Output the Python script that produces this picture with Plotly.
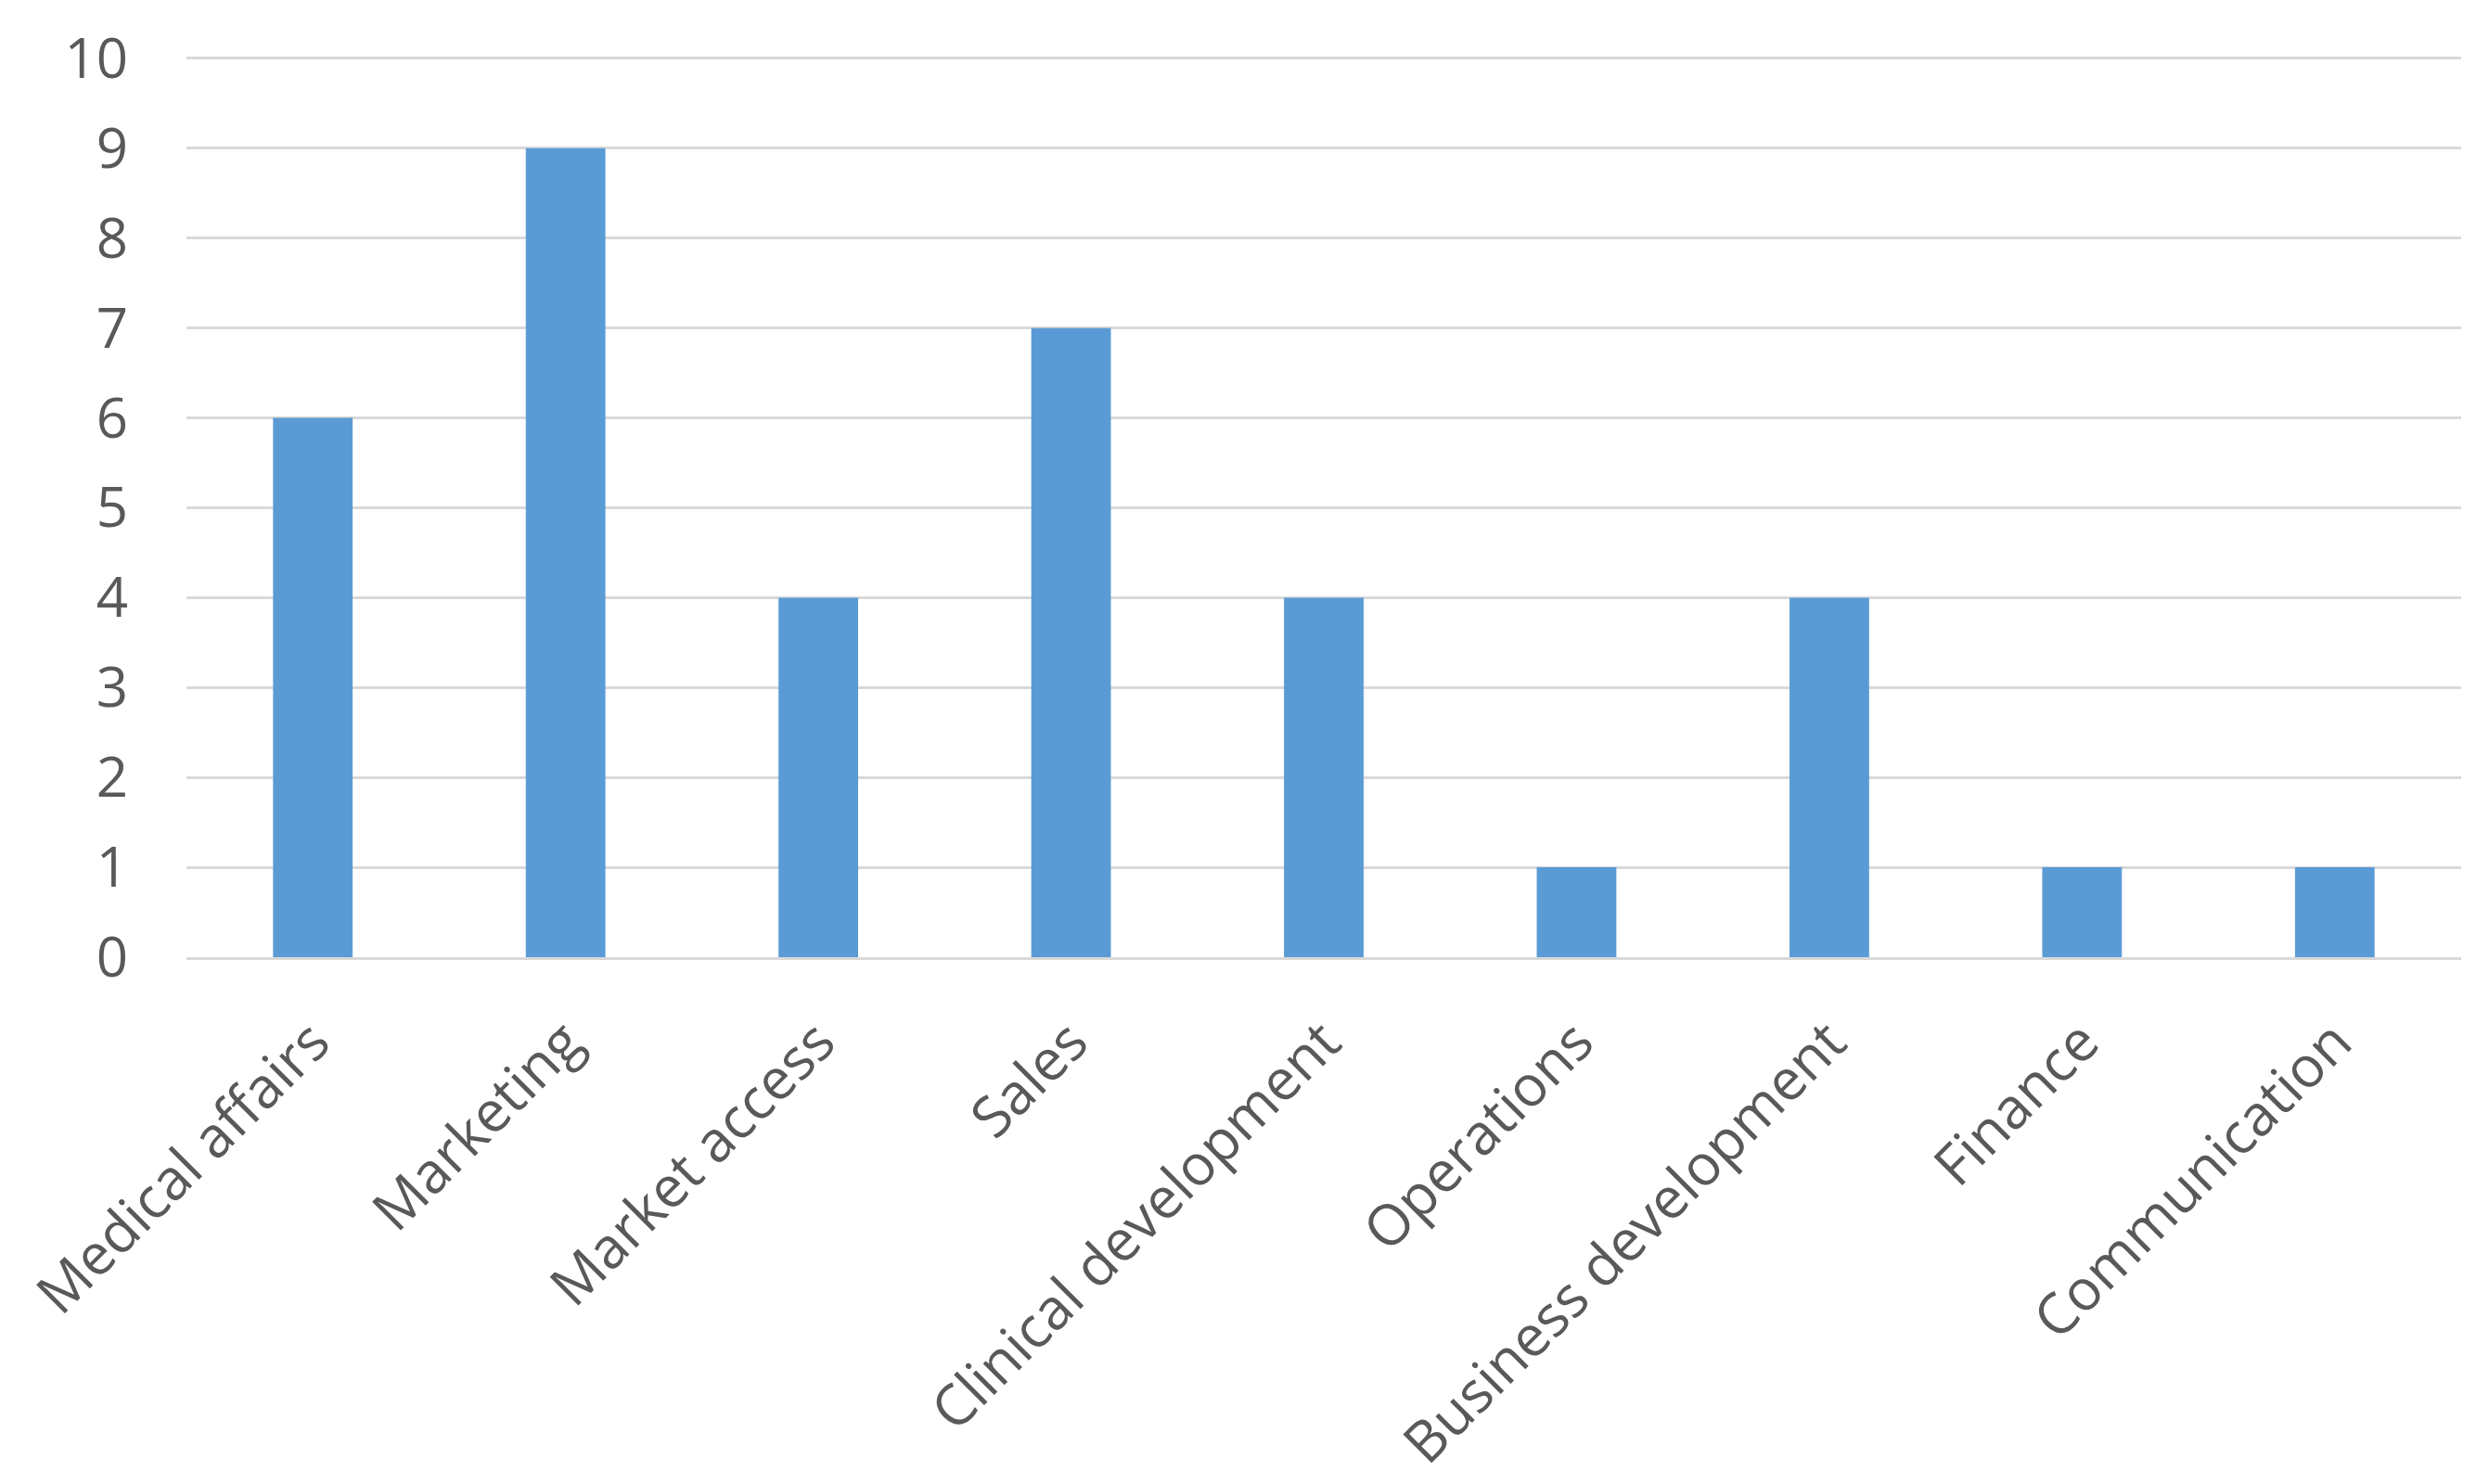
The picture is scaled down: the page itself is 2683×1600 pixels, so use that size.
import plotly.graph_objects as go

categories = ["Medical affairs", "Marketing", "Market access", "Sales",
              "Clinical development", "Operations", "Business development",
              "Finance", "Communication"]
values = [6, 9, 4, 7, 4, 1, 4, 1, 1]
y_ticks = list(range(0, 11))

fig = go.Figure(go.Bar(x=categories, y=values, marker=dict(color="#5B9BD5", line=dict(width=0))))

fig.update_layout(
    width=2683, height=1600,
    margin=dict(l=182, r=38, t=40, b=576),
    paper_bgcolor="white", plot_bgcolor="white",
    bargap=0.685,
    showlegend=False,
    font=dict(family="Open Sans", color="#595959"),
)
fig.update_xaxes(
    tickangle=-45, tickfont=dict(size=61, color="#595959"),
    showgrid=False, showline=True, linecolor="#D9D9D9", linewidth=3,
    ticks="", ticklabelstandoff=28,
)
fig.update_yaxes(
    range=[0, 10.02], tickvals=y_ticks, tickfont=dict(size=60, color="#595959"),
    showgrid=True, gridcolor="#D9D9D9", gridwidth=3, zeroline=False,
    showline=False, ticks="", ticklabelstandoff=62, ticklabeloverflow="allow",
)

fig.write_html("out.html")
